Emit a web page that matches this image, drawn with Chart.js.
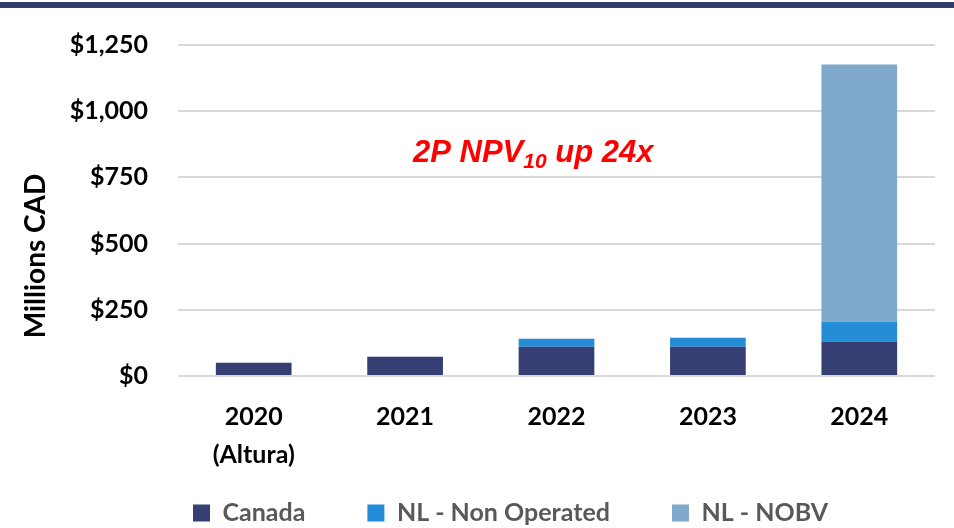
<!DOCTYPE html>
<html>
<head>
<meta charset="utf-8">
<script src="https://cdn.jsdelivr.net/npm/chart.js@4"></script>
<style>
  html, body { margin: 0; padding: 0; background: #fff; }
  #wrap { position: relative; width: 954px; height: 528px; }
  #topBar { position: absolute; left: 0; top: 2px; width: 954px; height: 6px; background: #313C6E; }
  canvas { position: absolute; left: 0; top: 0; }
</style>
</head>
<body>
<div id="wrap">
  <canvas id="c" width="954" height="528"></canvas>
  <div id="topBar"></div>
</div>
<script>
const CATEGORIES = [["2020", "(Altura)"], "2021", "2022", "2023", "2024"];
const CANADA = [50, 73, 110, 110, 130];
const NL_NON_OPERATED = [0, 0, 31, 34, 75];
const NL_NOBV = [0, 0, 0, 0, 971];
const Y_MAX = 1250;
const Y_STEP = 250;

const FONT = "Lato, 'Open Sans', sans-serif";
const LEGEND_PAD = 62;
const LEGEND_H = 30;       // height kept in the layout
const LEGEND_ROW_Y = 513;  // centre of the legend row
const LEGEND_X = 193;      // left edge of the first legend box

function money(v) {
  return "$" + v.toLocaleString("en-US");
}

// legend keeps wide gaps between items but sits low, near the bottom edge
const legendFit = {
  id: "legendFit",
  beforeLayout(chart) {
    const lg = chart.legend;
    if (!lg || lg._patched) return;
    const orig = lg.fit.bind(lg);
    lg.fit = function () { orig(); this.height = LEGEND_H; };
    lg._patched = true;
  },
  afterLayout(chart) {
    const lg = chart.legend;
    if (!lg) return;
    const p = lg.options.labels.padding;
    lg.top = LEGEND_ROW_Y - 12.5 - p;
    lg.bottom = chart.height;
    lg.height = lg.bottom - lg.top;
    // where chart.js would start the row when centred
    const ctx = chart.ctx;
    ctx.save();
    ctx.font = "bold 25px " + FONT;
    let w = 0;
    (lg.legendItems || []).forEach(it => { w += 17 + 12.5 + ctx.measureText(it.text).width + p; });
    ctx.restore();
    const start = (lg.left + p + lg.right - w) / 2;
    const dx = LEGEND_X - start;
    lg.left += dx;
    lg.right += dx;
  }
};

// y title and the red "2P NPV10 up 24x" note
const note = {
  id: "note",
  afterDatasetsDraw(chart) {
    const { ctx, scales } = chart;

    ctx.save();
    ctx.translate(36, 256);
    ctx.rotate(-Math.PI / 2);
    ctx.fillStyle = "#000";
    ctx.font = "bold 28px " + FONT;
    ctx.textAlign = "center";
    ctx.textBaseline = "middle";
    ctx.fillText("Millions CAD", 0, 0);
    ctx.restore();

    let x = scales.x.getPixelForValue(1.052);
    const y = scales.y.getPixelForValue(808);
    const big = "italic bold 31px 'Liberation Sans', Arial, sans-serif";
    const small = "italic bold 21px 'Liberation Sans', Arial, sans-serif";
    ctx.save();
    ctx.fillStyle = "#FF0000";
    ctx.textBaseline = "alphabetic";
    ctx.textAlign = "left";
    ctx.font = big;
    ctx.fillText("2P NPV", x, y);
    x += ctx.measureText("2P NPV").width;
    ctx.font = small;
    ctx.fillText("10", x, y + 6);
    x += ctx.measureText("10").width;
    ctx.font = big;
    ctx.fillText(" up 24x", x, y);
    ctx.restore();
  }
};

new Chart(document.getElementById("c"), {
  type: "bar",
  data: {
    labels: CATEGORIES,
    datasets: [
      { label: "Canada", data: CANADA, backgroundColor: "#353F74" },
      { label: "NL - Non Operated", data: NL_NON_OPERATED, backgroundColor: "#258CD8" },
      { label: "NL - NOBV", data: NL_NOBV, backgroundColor: "#7EA9CC" }
    ]
  },
  options: {
    responsive: false,
    animation: false,
    layout: { padding: { top: 45, right: 19, left: 0, bottom: 0 } },
    datasets: { bar: { categoryPercentage: 1, barPercentage: 0.5, borderWidth: 0 } },
    plugins: {
      tooltip: { enabled: false },
      legend: {
        position: "bottom",
        labels: {
          boxWidth: 17,
          boxHeight: 17,
          padding: LEGEND_PAD,
          color: "#595959",
          font: { family: FONT, size: 25, weight: "bold" }
        }
      }
    },
    scales: {
      x: {
        stacked: true,
        grid: { display: false },
        border: { display: false },
        ticks: {
          color: "#000",
          padding: 14,
          font: { family: FONT, size: 25, weight: "bold", lineHeight: 1.52 }
        },
        afterFit(s) { s.height = 528 - LEGEND_H - 376; }
      },
      y: {
        stacked: true,
        min: 0,
        max: Y_MAX,
        border: { display: false },
        grid: { color: "#D9D9D9", lineWidth: 2, drawTicks: false },
        ticks: {
          stepSize: Y_STEP,
          padding: 30,
          color: "#000",
          font: { family: FONT, size: 25, weight: "bold" },
          callback: v => money(v)
        },
        afterFit(s) { s.width = 178; }
      }
    }
  },
  plugins: [legendFit, note]
});
</script>
</body>
</html>
